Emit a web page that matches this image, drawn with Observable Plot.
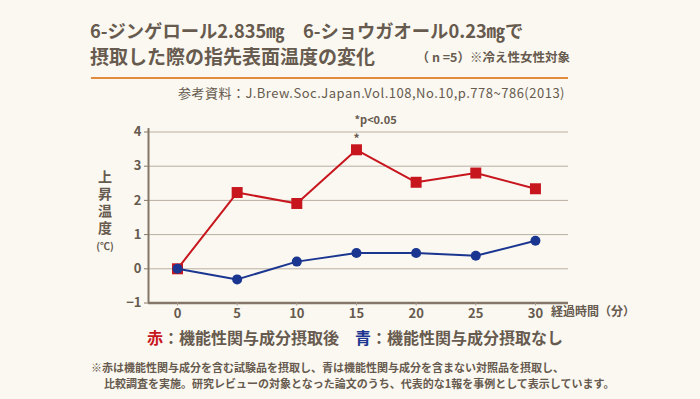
<!DOCTYPE html>
<html><head><meta charset="utf-8">
<script src="https://cdn.jsdelivr.net/npm/d3@7"></script>
<script src="https://cdn.jsdelivr.net/npm/@observablehq/plot@0.6"></script>
<style>
html,body{margin:0;padding:0;}
body{width:700px;height:399px;background:#faf8f1;position:relative;overflow:hidden;font-family:"Noto Sans CJK JP","Noto Sans",sans-serif;color:#675a4e;}
.t{position:absolute;white-space:nowrap;}
#chart{position:absolute;left:0;top:0;}
</style></head><body>
<div class="t" style="left:90px;top:19px;font-size:18.3px;font-weight:700;line-height:23px;">6-ジンゲロール2.835㎎　6-ショウガオール0.23㎎で</div>
<div class="t" style="left:90px;top:44px;font-size:19px;font-weight:700;line-height:23px;">摂取した際の指先表面温度の変化</div>
<div class="t" style="right:130px;top:49px;font-size:12.5px;font-weight:700;line-height:16px;">（ n =5）※冷え性女性対象</div>
<div class="t" style="left:91px;top:77px;width:477px;height:2px;background:#e48a3c;"></div>
<div class="t" style="right:135px;top:85px;font-size:13px;letter-spacing:0.5px;line-height:16px;">参考資料：J.Brew.Soc.Japan.Vol.108,No.10,p.778~786(2013)</div>
<div id="chart"></div>
<div class="t" style="left:96px;top:170px;writing-mode:vertical-rl;font-size:14px;font-weight:700;letter-spacing:3px;line-height:18px;width:18px;">上昇温度</div>
<div class="t" style="left:92px;top:239px;width:26px;text-align:center;font-size:10px;font-weight:700;line-height:13px;">(℃)</div>
<div class="t" style="left:551px;top:303px;font-size:12px;font-weight:700;line-height:16px;">経過時間（分）</div>
<div class="t" style="left:147px;top:327px;font-size:16px;font-weight:700;line-height:20px;"><span style="color:#c8161e">赤</span>：機能性関与成分摂取後　<span style="color:#1b3690">青</span>：機能性関与成分摂取なし</div>
<div class="t" style="left:91px;top:359px;font-size:11px;font-weight:700;line-height:16px;">※赤は機能性関与成分を含む試験品を摂取し、青は機能性関与成分を含まない対照品を摂取し、</div>
<div class="t" style="left:104px;top:375px;font-size:11px;font-weight:700;line-height:16px;">比較調査を実施。研究レビューの対象となった論文のうち、代表的な1報を事例として表示しています。</div>
<script>
const minutes = [0, 5, 10, 15, 20, 25, 30];
const withIngredient = [0, 2.23, 1.91, 3.48, 2.53, 2.8, 2.34];
const withoutIngredient = [0, -0.31, 0.21, 0.46, 0.46, 0.38, 0.82];
const yTicks = [-1, 0, 1, 2, 3, 4];
const xTicks = [0, 5, 10, 15, 20, 25, 30];
const sigMinute = 15;

const red = minutes.map((m, i) => ({m, v: withIngredient[i]}));
const blue = minutes.map((m, i) => ({m, v: withoutIngredient[i]}));
const xDom = [-2.43, 32.77];
const txt = "#675a4e";

const chart = Plot.plot({
  width: 700, height: 399,
  marginLeft: 148, marginRight: 132, marginTop: 131.5, marginBottom: 96.5,
  style: {background: "transparent", fontFamily: "'Noto Sans CJK JP','Noto Sans',sans-serif", color: txt, fontSize: "13px"},
  x: {domain: xDom},
  y: {domain: [-1, 4]},
  marks: [
    Plot.ruleY(yTicks.filter(d => d > -1), {stroke: "#b9afa3", strokeWidth: 1}),
    Plot.ruleX([xDom[0]], {y1: 4.1, y2: -1, stroke: "#857767", strokeWidth: 2}),
    Plot.ruleY([-1], {stroke: "#857767", strokeWidth: 2.5}),
    Plot.axisY(yTicks, {tickSize: 4, tickPadding: 3, stroke: "#857767", fill: txt, fontSize: 13, fontWeight: 700, label: null}),
    Plot.axisX(xTicks, {tickSize: 3, tickPadding: 3, stroke: "#a89c8f", fill: txt, fontSize: 13, fontWeight: 700, label: null, tickFormat: d => String(d)}),
    Plot.line(red, {x: "m", y: "v", stroke: "#c8161e", strokeWidth: 2}),
    Plot.dot(red, {x: "m", y: "v", symbol: "square", r: 6.2, fill: "#c8161e", stroke: null}),
    Plot.line(blue, {x: "m", y: "v", stroke: "#1b3690", strokeWidth: 2}),
    Plot.dot(blue, {x: "m", y: "v", r: 5, fill: "#1b3690", stroke: null}),
    Plot.text([sigMinute], {x: d => d, y: withIngredient[minutes.indexOf(sigMinute)], text: () => "*", dy: -11, fill: txt, fontSize: 12, fontWeight: 700}),
    Plot.text(["*p<0.05"], {x: 16.6, y: 4, text: d => d, dy: -12, fill: txt, fontSize: 11, fontWeight: 700})
  ]
});
document.getElementById("chart").appendChild(chart);
</script>
</body></html>
